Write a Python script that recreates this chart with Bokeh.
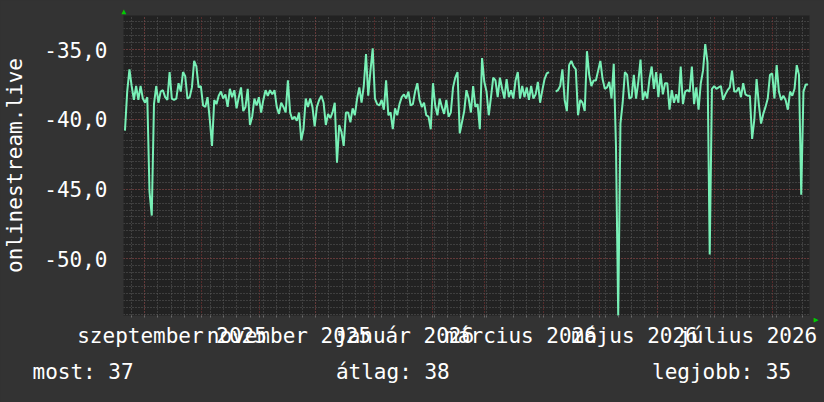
import numpy as np
import pandas as pd
from bokeh.plotting import figure
from bokeh.models import Range1d, FixedTicker, Title
from bokeh.embed import file_html
from bokeh.resources import INLINE

# ---------------- data ----------------
y_title = "onlinestream.live"
x_start = "2025-08-20 16:00"
x_end = "2026-08-20 16:00"
first_sample = "2025-08-21 10:45"
sample_step_hours = 28.5

nan = float("nan")
values = [
    -40.8, -38.0, -36.4, -37.6, -38.6, -37.6, -38.6, -37.6, -38.5, -38.8,
    -38.4, -45.2, -46.9, -38.9, -37.6, -38.8, -38.0, -37.9, -38.4, -38.6,
    -36.6, -38.5, -38.6, -38.5, -37.4, -38.0, -36.6, -36.9, -38.5, -38.4,
    -37.7, -35.8, -36.2, -37.7, -37.6, -39.0, -39.1, -38.4, -40.0, -41.9,
    -38.6, -38.9, -38.3, -38.0, -38.5, -38.2, -39.1, -37.8, -38.4, -37.9,
    -39.2, -38.4, -37.7, -39.4, -39.1, -37.8, -40.4, -39.8, -38.5, -39.0,
    -38.4, -39.5, -38.6, -37.9, -38.3, -37.9, -38.2, -37.9, -39.1, -39.6,
    -38.8, -39.1, -39.5, -37.2, -39.5, -40.0, -39.8, -40.1, -39.5, -41.5,
    -40.7, -38.5, -39.1, -38.5, -39.1, -40.5, -39.1, -38.6, -38.3, -38.8,
    -40.4, -39.6, -39.9, -39.5, -38.8, -43.1, -40.4, -40.9, -41.9, -39.5,
    -39.5, -40.2, -39.2, -39.7, -38.5, -37.7, -38.8, -37.6, -35.3, -38.3,
    -36.5, -34.9, -38.5, -38.9, -39.0, -38.6, -39.3, -37.2, -39.7, -39.5,
    -40.7, -39.2, -39.7, -38.9, -38.4, -38.2, -38.5, -38.0, -39.0, -38.9,
    -38.0, -37.4, -38.6, -39.1, -38.8, -39.7, -39.8, -40.7, -37.4, -39.0,
    -39.7, -38.5, -39.1, -39.6, -38.6, -39.8, -39.5, -37.7, -37.0, -36.6,
    -41.0, -40.2, -39.4, -37.9, -38.5, -39.5, -37.6, -39.1, -38.9, -40.7,
    -35.6, -37.3, -38.0, -39.7, -38.4, -37.0, -37.2, -38.4, -37.0, -37.8,
    -38.5, -37.1, -38.4, -37.9, -38.5, -37.2, -36.6, -38.5, -37.6, -38.4,
    -37.7, -38.6, -37.6, -38.5, -38.2, -37.3, -38.8, -37.9, -37.1, -36.7,
    -36.6, nan, nan, -38.0, -37.9, -37.6, -36.4, -38.6, -39.4, -36.1,
    -35.8, -36.2, -36.4, -39.7, -38.6, -38.8, -39.4, -35.1, -36.8, -37.6,
    -37.2, -37.2, -36.5, -35.8, -37.1, -37.8, -37.7, -37.3, -38.5, -36.0,
    -41.9, -54.1, -40.3, -38.8, -36.6, -36.8, -38.5, -38.4, -36.8, -38.5,
    -37.3, -35.7, -38.6, -38.0, -38.5, -37.1, -36.2, -37.8, -36.6, -38.4,
    -36.7, -38.2, -37.4, -37.4, -39.3, -37.9, -38.8, -38.2, -38.8, -36.2,
    -38.9, -38.0, -37.9, -38.0, -36.2, -38.9, -37.7, -39.3, -37.4, -36.5,
    -34.6, -35.9, -49.7, -37.8, -37.6, -37.8, -37.7, -37.6, -38.6, -38.2,
    -37.9, -37.7, -36.5, -38.0, -38.0, -37.7, -38.4, -37.4, -38.2, -38.3,
    -38.3, -41.4, -40.0, -37.1, -38.9, -40.3, -39.6, -39.1, -38.5, -36.8,
    -36.7, -38.5, -36.1, -38.0, -38.6, -38.3, -38.6, -39.3, -38.0, -38.3,
    -37.8, -36.1, -36.8, -45.4, -38.0, -37.5, -37.5,
]

month_label_at = ["2025-09-15 12:00", "2025-11-16 17:00", "2026-01-17 05:00",
                  "2026-03-20 05:00", "2026-05-19 14:00", "2026-07-18 19:00"]
month_labels = ["szeptember 2025", "november 2025", "január 2026",
                "március 2026", "május 2026", "július 2026"]
y_ticks = [-50, -45, -40, -35]
y_tick_labels = ["-50,0", "-45,0", "-40,0", "-35,0"]
stat_texts = ["most: 37", "átlag: 38", "legjobb: 35"]
stat_columns = [0, 24, 49]
y_min, y_max = -54.07, -32.54

# ---------------- helpers ----------------
def ms(t):
    return int(pd.Timestamp(t).value // 10**6)

t0 = pd.Timestamp(first_sample)
xs = [ms(t0 + pd.Timedelta(hours=sample_step_hours) * i) for i in range(len(values))]
month_starts = [ms(t) for t in pd.date_range("2025-09-01", "2026-08-01", freq="MS")]
mondays = [ms(t) for t in pd.date_range("2025-08-25", "2026-08-20", freq="7D")]
label_ms = [ms(t) for t in month_label_at]

FONT = "DejaVu Sans Mono"
FS = "21px"
TXT = "#ffffff"
ARROW = "#00cc00"

p = figure(width=824, height=402, output_backend="svg", toolbar_location=None,
           x_range=Range1d(ms(x_start), ms(x_end)), y_range=Range1d(y_min, y_max),
           min_border_left=123, min_border_right=15, min_border_top=15, min_border_bottom=87,
           background_fill_color="#222222", border_fill_color="#333333",
           outline_line_color=None)

p.line(xs, values, line_color="#78F0B6", line_width=2)

# grids
xg = p.xgrid[0]
xg.ticker = FixedTicker(ticks=month_starts, minor_ticks=mondays)
xg.grid_line_color = "#8a3434"
xg.grid_line_dash = "1 2"
xg.minor_grid_line_color = "#5c5c5c"
xg.minor_grid_line_dash = "1 2"

yg = p.ygrid[0]
yg.ticker = FixedTicker(ticks=y_ticks, minor_ticks=list(np.arange(-54.0, -32.4, 0.5)))
yg.grid_line_color = "#8a3434"
yg.grid_line_dash = "1 2"
yg.minor_grid_line_color = "#5c5c5c"
yg.minor_grid_line_dash = "1 2"

# x axis
xa = p.xaxis[0]
xa.ticker = FixedTicker(ticks=label_ms, minor_ticks=sorted(set(mondays + month_starts)))
xa.major_label_overrides = dict(zip(label_ms, month_labels))
xa.major_tick_line_color = None
xa.minor_tick_line_color = "#6a6a6a"
xa.minor_tick_in = 0
xa.minor_tick_out = 2
xa.axis_line_color = None
xa.major_label_standoff = 2
xa.major_label_text_font = FONT
xa.major_label_text_font_size = FS
xa.major_label_text_color = TXT

# y axis
ya = p.yaxis[0]
ya.ticker = FixedTicker(ticks=y_ticks)
ya.major_label_overrides = dict(zip(y_ticks, y_tick_labels))
ya.major_tick_line_color = None
ya.minor_tick_line_color = None
ya.axis_line_color = None
ya.major_label_standoff = 10
ya.major_label_text_font = FONT
ya.major_label_text_font_size = FS
ya.major_label_text_color = TXT
ya.axis_label = y_title
ya.axis_label_text_font = FONT
ya.axis_label_text_font_size = FS
ya.axis_label_text_font_style = "normal"
ya.axis_label_text_color = TXT
ya.axis_label_standoff = 14

# stats line below the x axis (monospace columns)
stat_line = ""
for txt, col in zip(stat_texts, stat_columns):
    stat_line += "\u00a0" * (col - len(stat_line)) + txt
p.add_layout(Title(text=stat_line, text_font=FONT, text_font_size=FS, text_color=TXT,
                   text_font_style="normal", align="left", offset=-91, standoff=15), "below")

# axis arrows (up at top of y axis, right at end of x axis)
p.title.text = "\u25b2"
p.title.text_font = FONT
p.title.text_font_size = "8px"
p.title.text_color = ARROW
p.title.align = "left"
p.title.offset = -2
p.title.standoff = 0
p.add_layout(Title(text="\u25b2", text_font=FONT, text_font_size="8px", text_color=ARROW,
                   align="right", offset=-7, standoff=4), "right")

html = file_html(p, INLINE)
html = html.replace("<head>", "<head>\n<style>html,body{margin:0;padding:0;background:#333333;overflow:hidden;}</style>", 1)
open("out.html", "w").write(html)
